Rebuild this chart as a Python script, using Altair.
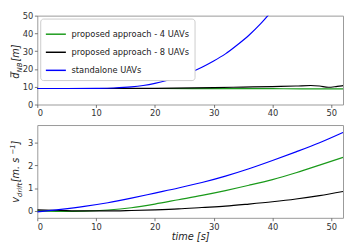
import altair as alt
import pandas as pd

# ---- data ----
series_names = ["proposed approach - 4 UAVs", "proposed approach - 8 UAVs", "standalone UAVs"]
series_colors = ["#1a9a1a", "#000000", "#0000ff"]

# top panel: mean neighbour distance
top_x_4 = [0, 10, 20, 30, 40, 45, 52]
top_y_4 = [9.0, 9.0, 9.0, 8.95, 8.9, 8.85, 8.85]
top_x_8 = [0, 10, 20, 30, 35, 40, 44, 46.5, 48, 49.5, 51, 52]
top_y_8 = [9.0, 9.0, 9.1, 9.5, 9.8, 10.1, 10.4, 10.7, 10.4, 9.7, 10.2, 10.6]
top_x_sa = [0, 5, 10, 13, 16, 18, 20, 22, 24, 26, 28, 30, 32, 34, 36, 38, 40, 42]
top_y_sa = [9.0, 9.0, 9.1, 9.3, 9.9, 10.7, 11.9, 13.5, 15.5, 18.0, 21.0, 24.5, 28.5, 33.5, 39.0, 45.5, 53.0, 61.0]

# bottom panel: drift velocity
bot_x = [0, 4, 8, 12, 16, 20, 24, 28, 32, 36, 40, 44, 48, 52]
bot_y_4 = [0.0, -0.02, -0.01, 0.04, 0.14, 0.30, 0.49, 0.68, 0.89, 1.12, 1.37, 1.67, 2.00, 2.34]
bot_y_8 = [0.05, 0.02, 0.0, 0.0, 0.02, 0.05, 0.09, 0.15, 0.21, 0.30, 0.40, 0.52, 0.67, 0.85]
bot_y_sa = [-0.04, 0.07, 0.20, 0.36, 0.56, 0.78, 1.00, 1.24, 1.52, 1.84, 2.20, 2.58, 2.98, 3.43]

x_ticks = [0, 10, 20, 30, 40, 50]
top_y_ticks = [0, 10, 20, 30, 40, 50]
bot_y_ticks = [0, 1, 2, 3]

# axis-title pieces (main text, subscript, rest)
top_title = ["d", "NB", " [m]"]
bot_title = ["v", "drift", " [m. s", "−1", "]"]
x_title = "time [s]"

FONT = "DejaVu Sans"

# ---- tables ----
def frame(xs, ys, name):
    return pd.DataFrame({"t": xs, "v": ys, "series": name, "order": range(len(xs))})

top_df = pd.concat([
    frame(top_x_4, top_y_4, series_names[0]),
    frame(top_x_8, top_y_8, series_names[1]),
    frame(top_x_sa, top_y_sa, series_names[2]),
])
bot_df = pd.concat([
    frame(bot_x, bot_y_4, series_names[0]),
    frame(bot_x, bot_y_8, series_names[1]),
    frame(bot_x, bot_y_sa, series_names[2]),
])

color_scale = alt.Scale(domain=series_names, range=series_colors)
x_scale = alt.Scale(domain=[0, 52], nice=False, zero=False)

ONE = alt.Data(values=[{"k": 0}])


def piece(text, x, y, size):
    return alt.Chart(ONE).mark_text(
        angle=270, align="left", baseline="alphabetic", fontStyle="italic",
        fontSize=size, font=FONT, color="#222222", clip=False,
    ).encode(x=alt.value(x), y=alt.value(y), text=alt.value(text))


TX = -18.5  # baseline of rotated title, relative to the plot's left edge
SUB = 2.6   # subscript shift

TOP_H = 91
BOT_H = 95
PLOT_W = 313

top_lines = alt.Chart(top_df).mark_line(strokeWidth=1.2, clip=True, interpolate="monotone").encode(
    x=alt.X("t:Q", scale=x_scale, axis=alt.Axis(values=x_ticks, title=None)),
    y=alt.Y("v:Q", scale=alt.Scale(domain=[0, 50], nice=False),
            axis=alt.Axis(values=top_y_ticks, title=None)),
    color=alt.Color("series:N", scale=color_scale, sort=series_names,
                    legend=alt.Legend(title=None, orient="top-left", offset=3)),
    order="order:Q",
)

y0 = TOP_H / 2 + 19
overline = alt.Chart(ONE).mark_rule(color="#222222", strokeWidth=0.8, clip=False).encode(
    x=alt.value(TX - 8.6), y=alt.value(y0 - 1.5), y2=alt.value(y0 - 7.5)
)
top = alt.layer(
    top_lines,
    piece(top_title[0], TX, y0, 10),
    overline,
    piece(top_title[1], TX + SUB, y0 - 6.4, 7),
    piece(top_title[2], TX, y0 - 6.4 - 11.2, 10),
).properties(width=PLOT_W, height=TOP_H)

bot_lines = alt.Chart(bot_df).mark_line(strokeWidth=1.2, clip=True, interpolate="monotone").encode(
    x=alt.X("t:Q", scale=x_scale, axis=alt.Axis(values=x_ticks, title=x_title, titleFontStyle="italic")),
    y=alt.Y("v:Q", scale=alt.Scale(domain=[-0.3, 3.75], nice=False, zero=False),
            axis=alt.Axis(values=bot_y_ticks, title=None)),
    color=alt.Color("series:N", scale=color_scale, sort=series_names, legend=None),
    order="order:Q",
)

b0 = BOT_H / 2 + 32
bottom = alt.layer(
    bot_lines,
    piece(bot_title[0], TX, b0, 10),
    piece(bot_title[1], TX + SUB, b0 - 5.9, 7),
    piece(bot_title[2], TX, b0 - 5.9 - 15.0, 10),
    piece(bot_title[3], TX - 4.2, b0 - 5.9 - 15.0 - 28.4, 7),
    piece(bot_title[4], TX, b0 - 5.9 - 15.0 - 28.4 - 10.3, 10),
).properties(width=PLOT_W, height=BOT_H)

chart = alt.vconcat(top, bottom, spacing=6).properties(
    padding={"left": 0, "top": 0, "right": 0, "bottom": 0}
).configure(font=FONT).configure_view(
    stroke="#999999", strokeWidth=1
).configure_axis(
    grid=False, domain=False, tickColor="#555555", tickSize=3, tickWidth=0.8,
    labelFontSize=8.5, labelColor="#333333", labelPadding=1.5, labelFont=FONT,
    titleFontSize=10, titleFontWeight="normal", titleColor="#222222", titlePadding=1, titleFont=FONT,
).configure_legend(
    strokeColor="#cccccc", fillColor="white", cornerRadius=3, padding=5,
    labelFontSize=8.5, labelColor="#222222", labelFont=FONT, symbolType="stroke",
    symbolStrokeWidth=1.5, symbolSize=420, rowPadding=2.5, labelOffset=5,
)

chart.save("out.html", embed_options={"renderer": "svg", "actions": False})
